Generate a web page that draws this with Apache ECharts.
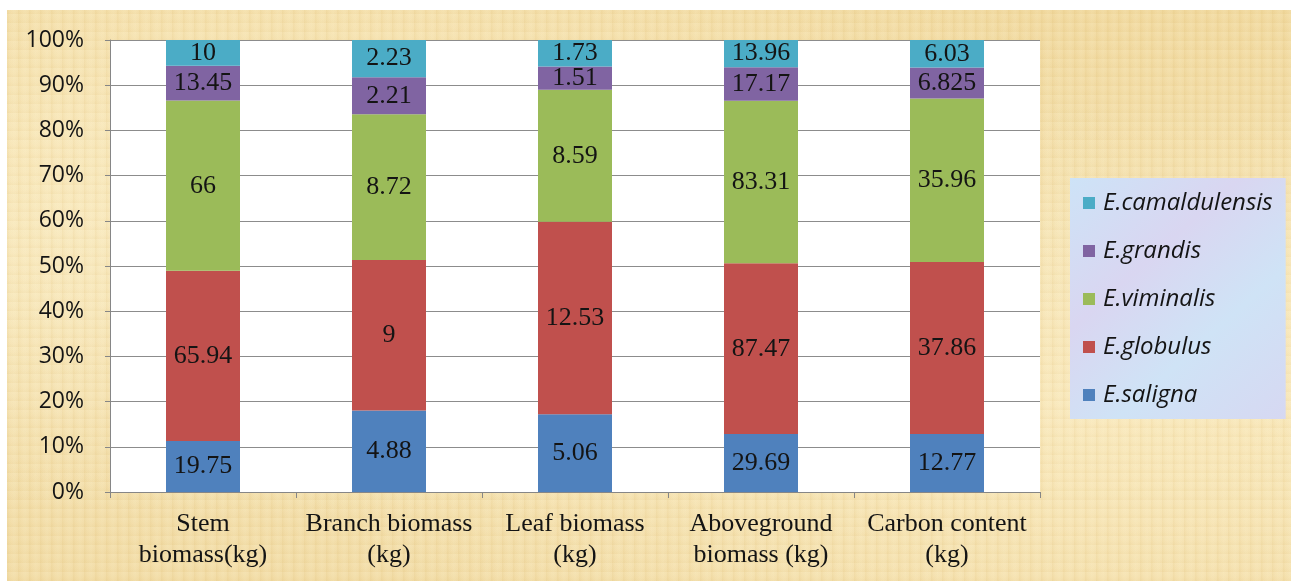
<!DOCTYPE html>
<html>
<head>
<meta charset="utf-8">
<script src="https://cdn.jsdelivr.net/npm/echarts@6/dist/echarts.min.js"></script>
<style>
  html, body { margin: 0; padding: 0; width: 1291px; height: 581px; background: #ffffff; overflow: hidden; }
  #paper {
    position: absolute; left: 7px; top: 10px; width: 1284px; height: 571px;
    background:
      repeating-linear-gradient(90deg, rgba(205,165,80,0.10) 0px, rgba(205,165,80,0.0) 3px, rgba(255,248,220,0.12) 7px, rgba(205,165,80,0.0) 11px),
      repeating-linear-gradient(0deg, rgba(205,165,80,0.07) 0px, rgba(205,165,80,0.0) 4px, rgba(255,248,220,0.10) 9px),
      radial-gradient(ellipse at 20% 30%, rgba(255,244,210,0.55), rgba(255,244,210,0) 60%),
      radial-gradient(ellipse at 85% 70%, rgba(255,242,205,0.5), rgba(255,242,205,0) 55%),
      linear-gradient(180deg, #f1d99f 0%, #f4e1b0 45%, #f2dca6 100%);
  }
  #chart { position: absolute; left: 0; top: 0; width: 1291px; height: 581px; }
</style>
</head>
<body>
<div id="paper"></div>
<div id="chart"></div>
<script>
// Categories along the x axis (two-line labels)
const categories = ['Stem\nbiomass(kg)', 'Branch biomass\n(kg)', 'Leaf biomass\n(kg)', 'Aboveground\nbiomass (kg)', 'Carbon content\n(kg)'];

// Species values per category
const saligna       = [19.75, 4.88, 5.06, 29.69, 12.77];
const globulus      = [65.94, 9, 12.53, 87.47, 37.86];
const viminalis     = [66, 8.72, 8.59, 83.31, 35.96];
const grandis       = [13.45, 2.21, 1.51, 17.17, 6.825];
const camaldulensis = [10, 2.23, 1.73, 13.96, 6.03];

const seriesNames  = ['E.saligna', 'E.globulus', 'E.viminalis', 'E.grandis', 'E.camaldulensis'];
const seriesValues = [saligna, globulus, viminalis, grandis, camaldulensis];
const seriesColors = ['#4F81BD', '#C0504D', '#9BBB59', '#8064A2', '#4BACC6'];

const yTicks = [0, 10, 20, 30, 40, 50, 60, 70, 80, 90, 100];

// column totals for the 100% stack
const totals = categories.map((_, i) => seriesValues.reduce((s, arr) => s + arr[i], 0));

const series = seriesNames.map((name, k) => ({
  name: name,
  type: 'bar',
  stack: 'pct',
  barWidth: 74,
  itemStyle: { color: seriesColors[k] },
  label: {
    show: true,
    position: 'inside',
    fontFamily: '"Liberation Serif", "Times New Roman", serif',
    fontSize: 26,
    color: '#141414',
    formatter: p => String(seriesValues[k][p.dataIndex])
  },
  data: seriesValues[k].map((v, i) => v / totals[i] * 100)
}));

const chart = echarts.init(document.getElementById('chart'), null, { renderer: 'canvas' });
chart.setOption({
  backgroundColor: 'transparent',
  animation: false,
  grid: {
    left: 110, right: 251, top: 40, bottom: 89,
    show: true, backgroundColor: '#ffffff', borderWidth: 0
  },
  legend: {
    orient: 'vertical',
    left: 1070, top: 178,
    padding: [13, 13, 12, 13],
    itemGap: 24,
    itemWidth: 12, itemHeight: 12,
    icon: 'rect',
    backgroundColor: new echarts.graphic.LinearGradient(0, 0, 1, 1, [
      { offset: 0, color: '#cde3f7' },
      { offset: 0.35, color: '#d9d6f1' },
      { offset: 0.65, color: '#cfe3f6' },
      { offset: 1, color: '#d6d8f2' }
    ]),
    data: seriesNames.slice().reverse(),
    textStyle: {
      fontFamily: '"Open Sans", "Noto Sans", sans-serif',
      fontStyle: 'italic',
      fontSize: 24,
      lineHeight: 24,
      color: '#141414',
      padding: [0, 0, 0, 3]
    }
  },
  xAxis: {
    type: 'category',
    data: categories,
    axisLine: { show: true, lineStyle: { color: '#868686', width: 1 } },
    axisTick: { show: true, alignWithLabel: false, length: 6, lineStyle: { color: '#868686' } },
    axisLabel: {
      interval: 0,
      fontFamily: '"Liberation Serif", "Times New Roman", serif',
      fontSize: 26,
      lineHeight: 31,
      color: '#141414',
      margin: 17
    }
  },
  yAxis: {
    type: 'value',
    min: 0, max: 100, interval: 10,
    axisLine: { show: true, lineStyle: { color: '#868686', width: 1 } },
    axisTick: { show: true, length: 5, lineStyle: { color: '#868686' } },
    splitLine: { show: true, lineStyle: { color: '#8c8c8c', width: 1 } },
    axisLabel: {
      fontFamily: '"Open Sans", "Noto Sans", sans-serif',
      fontSize: 23,
      color: '#141414',
      margin: 26,
      formatter: v => (yTicks.indexOf(v) >= 0 ? v + '%' : '')
    }
  },
  series: series
});
</script>
</body>
</html>
